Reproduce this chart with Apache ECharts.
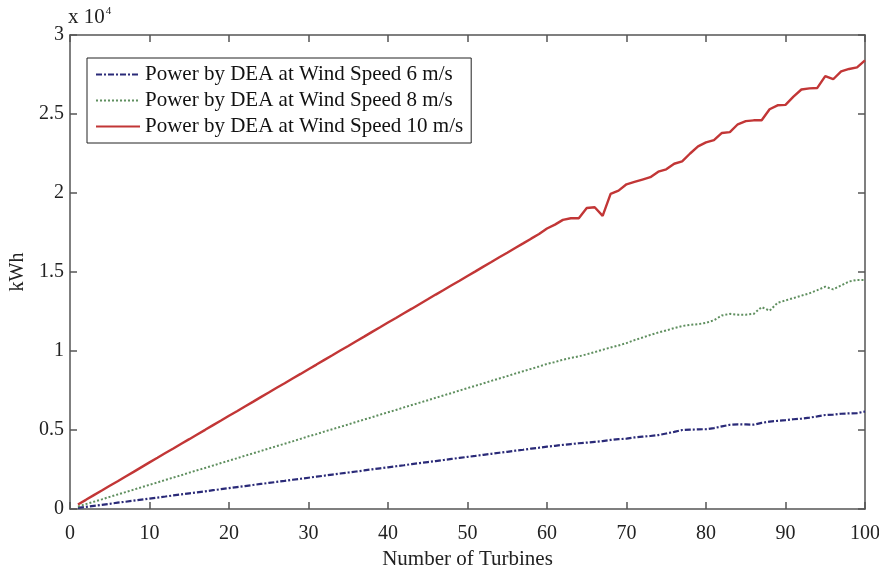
<!DOCTYPE html>
<html>
<head>
<meta charset="utf-8">
<script src="https://cdn.jsdelivr.net/npm/echarts@6/dist/echarts.min.js"></script>
<style>html,body{margin:0;padding:0;background:#fff;}#c{width:879px;height:572px;}</style>
</head>
<body>
<div id="c"></div>
<script>
const turbines = [1,2,3,4,5,6,7,8,9,10,11,12,13,14,15,16,17,18,19,20,21,22,23,24,25,26,27,28,29,30,31,32,33,34,35,36,37,38,39,40,41,42,43,44,45,46,47,48,49,50,51,52,53,54,55,56,57,58,59,60,61,62,63,64,65,66,67,68,69,70,71,72,73,74,75,76,77,78,79,80,81,82,83,84,85,86,87,88,89,90,91,92,93,94,95,96,97,98,99,100];

const speed6 = [70,130,200,265,330,400,460,530,595,660,725,790,860,925,990,1055,1120,1190,1255,1320,1385,1450,1520,1585,1650,1715,1780,1850,1915,1980,2045,2110,2180,2245,2310,2375,2440,2510,2575,2640,2705,2770,2840,2905,2970,3035,3100,3170,3235,3300,3360,3430,3490,3560,3620,3690,3750,3820,3880,3950,4000,4060,4110,4160,4200,4250,4300,4370,4420,4450,4530,4580,4620,4680,4780,4880,5000,5020,5040,5050,5120,5230,5330,5360,5350,5340,5450,5530,5580,5620,5680,5720,5780,5860,5950,5970,6030,6050,6070,6170];

const speed8 = [150,310,460,610,770,920,1070,1220,1380,1530,1680,1840,1990,2140,2300,2450,2600,2750,2910,3060,3210,3370,3520,3670,3830,3980,4130,4280,4440,4600,4740,4900,5050,5200,5350,5510,5660,5810,5970,6120,6270,6430,6580,6730,6880,7040,7190,7340,7500,7650,7800,7950,8110,8260,8410,8570,8720,8870,9020,9180,9300,9450,9560,9660,9790,9930,10080,10220,10350,10500,10690,10850,11020,11170,11300,11450,11580,11650,11700,11780,11950,12250,12350,12300,12300,12350,12780,12550,13050,13200,13350,13500,13650,13850,14070,13900,14150,14400,14500,14500];

const speed10 = [290,580,880,1170,1470,1760,2060,2350,2650,2950,3240,3540,3830,4130,4420,4720,5010,5310,5600,5900,6190,6490,6780,7080,7370,7670,7960,8260,8550,8850,9140,9440,9730,10030,10320,10620,10910,11210,11500,11800,12090,12390,12680,12980,13270,13570,13860,14160,14450,14750,15040,15340,15630,15930,16220,16520,16810,17110,17400,17750,18000,18300,18400,18400,19050,19100,18550,19950,20150,20550,20700,20850,21000,21350,21500,21850,22000,22500,22950,23200,23350,23800,23850,24350,24550,24600,24600,25300,25550,25580,26100,26550,26620,26650,27400,27200,27700,27850,27950,28400];

const seriesNames = ['Power by DEA at Wind Speed 6 m/s','Power by DEA at Wind Speed 8 m/s','Power by DEA at Wind Speed 10 m/s'];
const xTicks = [0,10,20,30,40,50,60,70,80,90,100];
const yTicks = ['0','0.5','1','1.5','2','2.5','3'];

function pairs(vals){ return turbines.map((t,i)=>[t, vals[i]]); }

const serif = '"Liberation Serif","DejaVu Serif",serif';
const axisCol = '#555';

const chart = echarts.init(document.getElementById('c'), null, {renderer:'canvas'});
chart.setOption({
  animation:false,
  backgroundColor:'#fff',
  grid:{left:70, right:14, top:35, bottom:63, containLabel:false, outerBoundsMode:'none'},
  legend:{
    orient:'vertical', left:87, top:58,
    backgroundColor:'#fff', borderColor:'#222', borderWidth:1,
    padding:[6,8,6,8], itemGap:5, itemWidth:44, itemHeight:20,
    itemStyle:{opacity:0},
    textStyle:{fontFamily:serif, fontSize:21, color:'#111'},
    data: seriesNames
  },
  xAxis:[{
    type:'value', min:0, max:100, interval:10, position:'bottom',
    name:'Number of Turbines', nameLocation:'middle', nameGap:39,
    nameTextStyle:{fontFamily:serif, fontSize:21, color:'#222'},
    axisLine:{show:true, onZero:false, lineStyle:{color:axisCol, width:1.5}},
    axisTick:{show:true, inside:true, length:7, lineStyle:{color:axisCol, width:1.5}},
    axisLabel:{fontFamily:serif, fontSize:20, color:'#222', margin:15,
      formatter:v=> String(xTicks[Math.round(v/10)])},
    splitLine:{show:false}
  },{
    type:'value', min:0, max:100, interval:10, position:'top',
    axisLine:{show:true, onZero:false, lineStyle:{color:axisCol, width:1.5}},
    axisTick:{show:true, inside:true, length:7, lineStyle:{color:axisCol, width:1.5}},
    axisLabel:{show:false}, splitLine:{show:false}
  }],
  yAxis:[{
    type:'value', min:0, max:30000, interval:5000, position:'left',
    name:'kWh', nameLocation:'middle', nameGap:39, nameRotate:90,
    nameTextStyle:{fontFamily:serif, fontSize:20, color:'#222'},
    axisLine:{show:true, onZero:false, lineStyle:{color:axisCol, width:1.5}},
    axisTick:{show:true, inside:true, length:7, lineStyle:{color:axisCol, width:1.5}},
    axisLabel:{fontFamily:serif, fontSize:20, color:'#222', margin:6,
      formatter:v=> yTicks[Math.round(v/5000)]},
    splitLine:{show:false}
  },{
    type:'value', min:0, max:30000, interval:5000, position:'right',
    axisLine:{show:true, onZero:false, lineStyle:{color:axisCol, width:1.5}},
    axisTick:{show:true, inside:true, length:7, lineStyle:{color:axisCol, width:1.5}},
    axisLabel:{show:false}, splitLine:{show:false}
  }],
  graphic:[{
    type:'text', left:68, top:6,
    style:{
      text:'{a|x 10}{b|4}',
      rich:{
        a:{fontFamily:serif, fontSize:21, fill:'#222'},
        b:{fontFamily:serif, fontSize:11, fill:'#222', verticalAlign:'top', padding:[0,0,12,1]}
      }
    }
  }],
  series:[
    {name:seriesNames[0], type:'line', xAxisIndex:0, yAxisIndex:0, data:pairs(speed6),
     symbol:'none', lineStyle:{color:'#2a2a78', width:2.2, type:[6,2,2,2]}, itemStyle:{color:'#2a2a78'}, z:3},
    {name:seriesNames[1], type:'line', xAxisIndex:0, yAxisIndex:0, data:pairs(speed8),
     symbol:'none', lineStyle:{color:'#5f8f5f', width:2, type:[2,2]}, itemStyle:{color:'#5f8f5f'}, z:3},
    {name:seriesNames[2], type:'line', xAxisIndex:0, yAxisIndex:0, data:pairs(speed10),
     symbol:'none', lineStyle:{color:'#c23636', width:2.4}, itemStyle:{color:'#c23636'}, z:4}
  ]
});
</script>
</body>
</html>
